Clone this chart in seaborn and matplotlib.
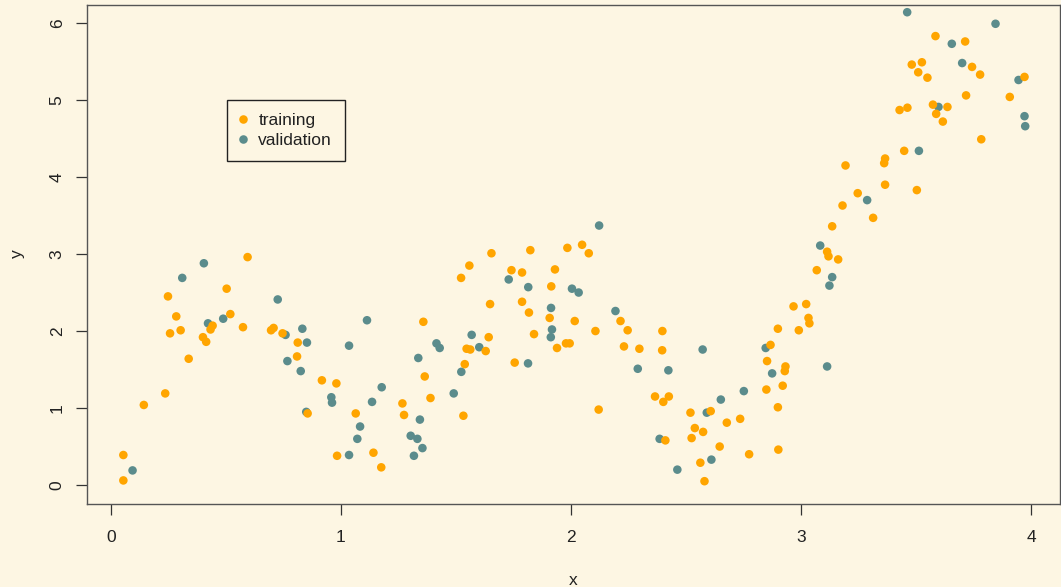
import numpy as np
import pandas as pd
import matplotlib
matplotlib.use("Agg")
import matplotlib.pyplot as plt
import seaborn as sns

# ---- data ----
train_x = [0.054, 0.054, 0.143, 0.236, 0.248, 0.284, 0.257, 0.303, 0.338, 0.400,
           0.414, 0.442, 0.433, 0.519, 0.503, 0.594, 0.574, 0.696, 0.707, 0.746,
           0.812, 0.809, 0.855, 0.917, 0.980, 0.983, 1.648, 1.358, 1.642, 1.546,
           1.562, 1.629, 1.538, 1.364, 1.389, 1.267, 1.274, 1.532, 1.064, 1.141,
           1.175, 1.654, 1.823, 1.558, 1.522, 1.741, 1.787, 1.984, 2.048, 2.077,
           1.930, 1.914, 1.787, 1.817, 1.907, 2.016, 2.215, 2.246, 2.106, 1.839,
           1.978, 1.994, 1.939, 2.230, 2.297, 1.755, 2.120, 2.397, 2.396, 2.365,
           2.425, 2.401, 2.410, 2.519, 2.607, 2.538, 2.574, 2.524, 2.677, 2.735,
           2.646, 2.562, 2.580, 2.774, 2.901, 2.899, 2.849, 2.920, 2.932, 2.929,
           2.852, 2.867, 2.899, 2.990, 2.967, 3.022, 3.032, 3.036, 3.193, 3.361,
           3.365, 3.365, 3.503, 3.246, 3.180, 3.313, 3.135, 3.113, 3.119, 3.161,
           3.068, 3.584, 3.713, 3.481, 3.525, 3.509, 3.549, 3.743, 3.778, 3.971,
           3.907, 3.717, 3.428, 3.462, 3.573, 3.636, 3.587, 3.616, 3.783, 3.448]
train_y = [0.39, 0.06, 1.04, 1.19, 2.45, 2.19, 1.97, 2.01, 1.64, 1.92,
           1.86, 2.07, 2.02, 2.22, 2.55, 2.96, 2.05, 2.01, 2.04, 1.97,
           1.85, 1.67, 0.93, 1.36, 1.32, 0.38, 2.35, 2.12, 1.92, 1.77,
           1.76, 1.74, 1.57, 1.41, 1.13, 1.06, 0.91, 0.90, 0.93, 0.42,
           0.23, 3.01, 3.05, 2.85, 2.69, 2.79, 2.76, 3.08, 3.12, 3.01,
           2.80, 2.58, 2.38, 2.24, 2.17, 2.13, 2.13, 2.01, 2.00, 1.96,
           1.84, 1.84, 1.78, 1.80, 1.77, 1.59, 0.98, 2.00, 1.75, 1.15,
           1.15, 1.08, 0.58, 0.94, 0.96, 0.74, 0.69, 0.61, 0.81, 0.86,
           0.50, 0.29, 0.05, 0.40, 0.46, 1.01, 1.24, 1.29, 1.54, 1.48,
           1.61, 1.82, 2.03, 2.01, 2.32, 2.35, 2.17, 2.10, 4.15, 4.18,
           4.24, 3.90, 3.83, 3.79, 3.63, 3.47, 3.36, 3.03, 2.97, 2.93,
           2.79, 5.83, 5.76, 5.46, 5.49, 5.36, 5.29, 5.43, 5.33, 5.30,
           5.04, 5.06, 4.87, 4.90, 4.94, 4.91, 4.82, 4.72, 4.49, 4.34]

valid_x = [0.094, 0.310, 0.404, 0.422, 0.488, 0.725, 0.759, 0.767, 0.832, 0.852,
           0.825, 0.849, 0.958, 0.961, 1.113, 1.035, 1.568, 1.415, 1.429, 1.601,
           1.336, 1.523, 1.177, 1.135, 1.490, 1.343, 1.083, 1.071, 1.303, 1.332,
           1.354, 1.317, 1.035, 2.122, 1.729, 1.814, 2.004, 2.033, 1.913, 2.193,
           1.917, 1.912, 2.290, 1.813, 2.423, 2.572, 2.385, 2.462, 2.590, 2.651,
           2.751, 2.610, 2.874, 2.846, 3.287, 3.083, 3.135, 3.123, 3.113, 3.461,
           3.845, 3.655, 3.700, 3.945, 3.597, 3.971, 3.974, 3.512]
valid_y = [0.19, 2.69, 2.88, 2.10, 2.16, 2.41, 1.95, 1.61, 2.03, 1.85,
           1.48, 0.95, 1.14, 1.07, 2.14, 1.81, 1.95, 1.84, 1.78, 1.79,
           1.65, 1.47, 1.27, 1.08, 1.19, 0.85, 0.76, 0.60, 0.64, 0.60,
           0.48, 0.38, 0.39, 3.37, 2.67, 2.57, 2.55, 2.50, 2.30, 2.26,
           2.02, 1.92, 1.51, 1.58, 1.49, 1.76, 0.60, 0.20, 0.94, 1.11,
           1.22, 0.33, 1.45, 1.78, 3.70, 3.11, 2.70, 2.59, 1.54, 6.14,
           5.99, 5.73, 5.48, 5.26, 4.91, 4.79, 4.66, 4.34]

groups = ["training", "validation"]
x_ticks = [0, 1, 2, 3, 4]
y_ticks = [0, 1, 2, 3, 4, 5, 6]

# ---- styling ----
BG = "#FDF6E3"
ORANGE = "#FFA500"
TEAL = "#5B8C8C"

sns.set_theme(style="ticks")
plt.rcParams["font.family"] = ["Liberation Sans", "DejaVu Sans"]

df = pd.concat([
    pd.DataFrame({"x": valid_x, "y": valid_y, "set": "validation"}),
    pd.DataFrame({"x": train_x, "y": train_y, "set": "training"}),
], ignore_index=True)

fig = plt.figure(figsize=(10.61, 5.87), dpi=100, facecolor=BG)
ax = fig.add_axes([0.0820, 0.1422, 0.9170, 0.8501])
ax.set_facecolor(BG)

sns.scatterplot(data=df, x="x", y="y", hue="set", hue_order=groups,
                palette={"training": ORANGE, "validation": TEAL},
                s=38, linewidth=0, ax=ax, legend=True)

ax.set_xlim(-0.104, 4.125)
ax.set_ylim(-0.24, 6.24)
ax.set_xticks(x_ticks)
ax.set_yticks(y_ticks)
ax.set_xticklabels([str(v) for v in x_ticks])
ax.set_yticklabels([str(v) for v in y_ticks], rotation=90, va="center")

for sp in ax.spines.values():
    sp.set_visible(True)
    sp.set_color("#555555")
    sp.set_linewidth(1.0)

ax.tick_params(axis="both", direction="out", length=8, width=0.9,
               color="#333333", labelsize=12.5, labelcolor="#222222")
ax.tick_params(axis="x", pad=11)
ax.tick_params(axis="y", pad=8)

ax.set_xlabel("x", fontsize=12.5, color="#222222", labelpad=20)
ax.set_ylabel("y", fontsize=12.5, color="#222222", labelpad=18)

leg = ax.legend(loc="upper left", bbox_to_anchor=(0.144, 0.8086),
                borderaxespad=0.0,
                frameon=True, fancybox=False, framealpha=1,
                facecolor=BG, edgecolor="#222222", fontsize=12.5,
                handletextpad=0.75, borderpad=0.75, labelspacing=0.25,
                markerscale=1.0, handlelength=0.3)
leg.get_frame().set_linewidth(1.0)
for t in leg.get_texts():
    t.set_color("#222222")

fig.savefig("out.png", dpi=100, facecolor=BG)
